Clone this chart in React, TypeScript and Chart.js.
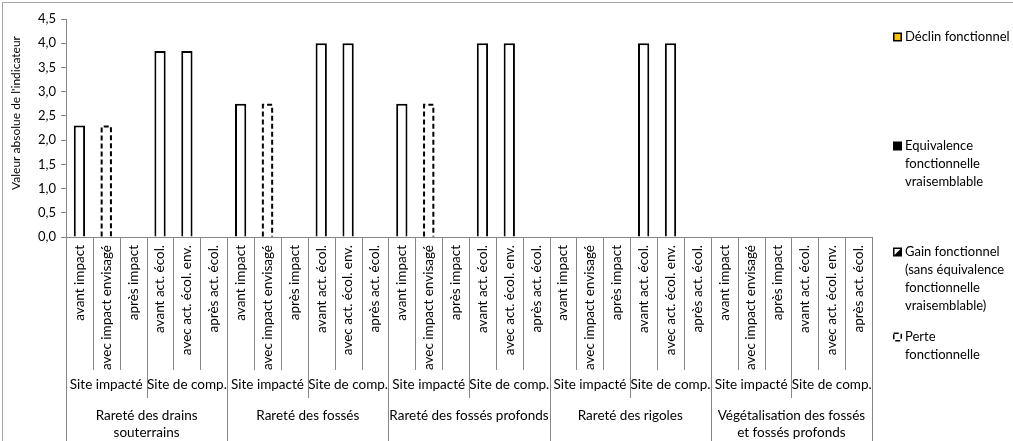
import React, { useEffect, useRef } from 'react';
import { Chart, registerables } from 'chart.js';

Chart.register(...registerables);

const itemLabels = [
  'avant impact',
  'avec impact envisagé',
  'après impact',
  'avant act. écol.',
  'avec act. écol. env.',
  'après act. écol.',
];
const siteLabels = ['Site impacté', 'Site de comp.'];
const groupLabels = [
  ['Rareté des drains', 'souterrains'],
  ['Rareté des fossés'],
  ['Rareté des fossés profonds'],
  ['Rareté des rigoles'],
  ['Végétalisation des fossés', 'et fossés profonds'],
];

const categories = groupLabels.flatMap(() => itemLabels);

const declinValues = [
  null, null, null, null, null, null,
  null, null, null, null, null, null,
  null, null, null, null, null, null,
  null, null, null, null, null, null,
  null, null, null, null, null, null,
];
const equivalenceValues = [
  null, null, null, null, null, null,
  null, null, null, null, null, null,
  null, null, null, null, null, null,
  null, null, null, null, null, null,
  null, null, null, null, null, null,
];
const gainValues = [
  2.3, null, null, 3.84, 3.84, null,
  2.75, null, null, 4.0, 4.0, null,
  2.75, null, null, 4.0, 4.0, null,
  null, null, null, 4.0, 4.0, null,
  null, null, null, null, null, null,
];
const perteValues = [
  null, 2.3, null, null, null, null,
  null, 2.75, null, null, null, null,
  null, 2.75, null, null, null, null,
  null, null, null, null, null, null,
  null, null, null, null, null, null,
];

const legendLabels = [
  ['Déclin fonctionnel'],
  ['Equivalence', 'fonctionnelle', 'vraisemblable'],
  ['Gain fonctionnel', '(sans équivalence', 'fonctionnelle', 'vraisemblable)'],
  ['Perte', 'fonctionnelle'],
];

const FONT = 'Lato, "Liberation Sans", sans-serif';
const AXIS_GRAY = '#868686';

const dashPlugin = {
  id: 'dashBars',
  afterDatasetsDraw(chart: any) {
    const meta = chart.getDatasetMeta(3);
    const ctx = chart.ctx;
    ctx.save();
    ctx.strokeStyle = '#000';
    ctx.lineWidth = 2;
    ctx.setLineDash([5, 3]);
    meta.data.forEach((el: any, i: number) => {
      if (perteValues[i] == null) return;
      const { x, y, base, width } = el.getProps(['x', 'y', 'base', 'width'], true);
      const l = x - width / 2 + 1;
      const r = x + width / 2 - 1;
      const t = y + 1;
      ctx.beginPath();
      ctx.moveTo(l, base);
      ctx.lineTo(l, t);
      ctx.lineTo(r, t);
      ctx.lineTo(r, base);
      ctx.stroke();
    });
    ctx.restore();
  },
};

const decorPlugin = {
  id: 'decor',
  afterDraw(chart: any) {
    const ctx = chart.ctx;
    const xs = chart.scales.x;
    const n = categories.length;
    const H = chart.height;
    ctx.save();
    // outer border
    ctx.strokeStyle = '#a6a6a6';
    ctx.lineWidth = 1;
    ctx.strokeRect(2.5, 2.5, chart.width + 10, H + 10);

    // separators
    const boundary = (b: number) => {
      if (b === 0) return xs.left;
      if (b === n) return xs.right;
      return (xs.getPixelForValue(b - 1) + xs.getPixelForValue(b)) / 2;
    };
    ctx.strokeStyle = AXIS_GRAY;
    ctx.lineWidth = 1;
    const y0 = xs.top;
    for (let b = 0; b <= n; b++) {
      const x = Math.round(boundary(b)) + 0.5;
      let yEnd = 370;
      if (b % 6 === 0) yEnd = H;
      else if (b % 3 === 0) yEnd = 398;
      ctx.beginPath();
      ctx.moveTo(x, y0);
      ctx.lineTo(x, yEnd);
      ctx.stroke();
    }

    // level 2 and 3 labels
    ctx.fillStyle = '#000';
    ctx.textAlign = 'center';
    ctx.textBaseline = 'middle';
    ctx.font = `13.5px ${FONT}`;
    for (let s = 0; s < n / 3; s++) {
      const cx = (boundary(s * 3) + boundary(s * 3 + 3)) / 2;
      ctx.fillText(siteLabels[s % 2], cx, 385);
    }
    groupLabels.forEach((lines, g) => {
      const cx = (boundary(g * 6) + boundary(g * 6 + 6)) / 2;
      lines.forEach((line, k) => ctx.fillText(line, cx, 416 + k * 17));
    });

    // y title
    ctx.save();
    ctx.translate(16, 113);
    ctx.rotate(-Math.PI / 2);
    ctx.font = `12px ${FONT}`;
    ctx.fillText("Valeur absolue de l'indicateur", 0, 0);
    ctx.restore();

    // legend
    const mx = 893;
    const tx = 905;
    const tops = [37, 146, 252, 337];
    ctx.font = `13px ${FONT}`;
    ctx.textAlign = 'left';
    legendLabels.forEach((lines, k) => {
      const ty = tops[k];
      lines.forEach((line, j) => ctx.fillText(line, tx, ty + j * 18));
      const l = mx, t = ty - 4.5, sz = 9;
      if (k === 0) {
        ctx.fillStyle = '#000';
        ctx.fillRect(l, t, sz, sz);
        ctx.fillStyle = '#FFC000';
        ctx.fillRect(l + 1.5, t + 1.5, sz - 3, sz - 3);
      } else if (k === 1) {
        ctx.fillStyle = '#000';
        ctx.fillRect(l, t, sz, sz);
      } else if (k === 2) {
        ctx.fillStyle = '#000';
        ctx.fillRect(l, t, sz, sz);
        ctx.fillStyle = '#fff';
        ctx.beginPath();
        ctx.moveTo(l + 1.5, t + 1.5);
        ctx.lineTo(l + sz - 1.5, t + 1.5);
        ctx.lineTo(l + 1.5, t + sz - 1.5);
        ctx.closePath();
        ctx.fill();
      } else {
        ctx.strokeStyle = '#000';
        ctx.lineWidth = 1.5;
        ctx.setLineDash([5, 3]);
        ctx.strokeRect(l + 0.75, t + 0.75, sz - 1.5, sz - 1.5);
        ctx.setLineDash([]);
      }
      ctx.fillStyle = '#000';
    });
    ctx.restore();
  },
};

export default function App() {
  const ref = useRef<HTMLCanvasElement | null>(null);
  useEffect(() => {
    if (!ref.current) return;
    const chart = new Chart(ref.current, {
      type: 'bar',
      data: {
        labels: categories,
        datasets: [
          {
            label: 'Déclin fonctionnel',
            data: declinValues,
            backgroundColor: '#FFC000',
            borderColor: '#000',
            borderWidth: 2,
          },
          {
            label: 'Equivalence fonctionnelle vraisemblable',
            data: equivalenceValues,
            backgroundColor: '#000',
            borderColor: '#000',
            borderWidth: 2,
          },
          {
            label: 'Gain fonctionnel (sans équivalence fonctionnelle vraisemblable)',
            data: gainValues,
            backgroundColor: '#fff',
            borderColor: '#000',
            borderWidth: 2,
          },
          {
            label: 'Perte fonctionnelle',
            data: perteValues,
            backgroundColor: '#fff',
            borderColor: '#000',
            borderWidth: 0,
          },
        ] as any,
      },
      options: {
        responsive: false,
        animation: false,
        devicePixelRatio: 1,
        datasets: { bar: { categoryPercentage: 1, barPercentage: 0.42 } } as any,
        layout: { padding: { top: 19, right: 141, left: 0, bottom: 0 } },
        plugins: { legend: { display: false }, tooltip: { enabled: false } },
        scales: {
          x: {
            stacked: true,
            offset: true,
            grid: { display: false, drawTicks: false },
            border: { display: true, color: AXIS_GRAY },
            ticks: {
              autoSkip: false,
              minRotation: 90,
              maxRotation: 90,
              padding: 8,
              color: '#000',
              font: { family: FONT, size: 13.5 },
            },
            afterFit: (s: any) => {
              s.height = 204;
            },
          },
          y: {
            stacked: true,
            min: 0,
            max: 4.5,
            grid: { drawOnChartArea: false, drawTicks: true, tickLength: 5, color: AXIS_GRAY },
            border: { display: true, color: AXIS_GRAY },
            ticks: {
              stepSize: 0.5,
              padding: 5,
              color: '#000',
              font: { family: FONT, size: 13 },
              callback: (v: any) => Number(v).toFixed(1).replace('.', ','),
            },
            afterFit: (s: any) => {
              s.width = 66;
            },
          },
        },
      },
      plugins: [dashPlugin, decorPlugin],
    });
    return () => chart.destroy();
  }, []);
  return (
    <div style={{ position: 'fixed', left: 0, top: 0, width: 1013, height: 441, background: '#fff' }}>
      <canvas ref={ref} width={1013} height={441} />
    </div>
  );
}
